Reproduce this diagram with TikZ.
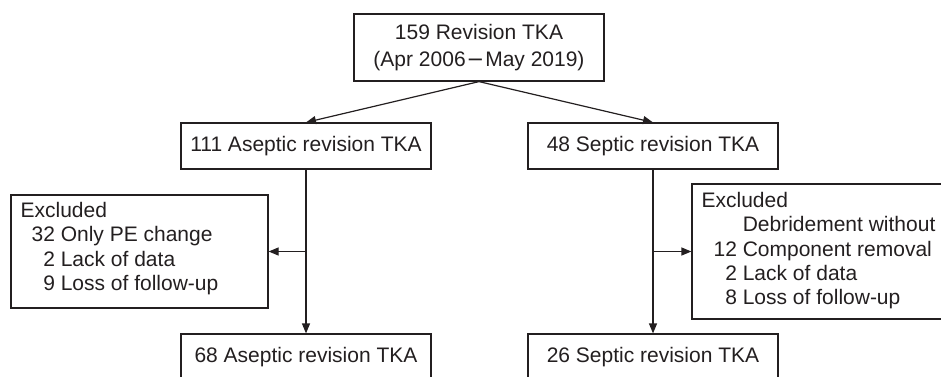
\documentclass[tikz,border=0pt]{standalone}
\usepackage{fontspec}
\setmainfont{Liberation Sans}
\usetikzlibrary{arrows.meta}
\definecolor{ink}{HTML}{231F20}
\begin{document}
\begin{tikzpicture}[x=1pt,y=-1pt,
  box/.style={draw=ink, line width=1.2pt, rectangle, inner sep=0pt, text=ink,
    font=\fontsize{21}{27}\selectfont, align=center},
  txt/.style={inner sep=0pt, text=ink, anchor=north west,
    font=\fontsize{21}{24.3}\selectfont},
  arr/.style={draw=ink, line width=1.2pt, -{Triangle[length=10pt,width=8pt]}},
  ln/.style={draw=ink, line width=1.2pt}]
\useasboundingbox (0,0) rectangle (941,376);
\clip (0,0) rectangle (941,376);

\node[box, minimum width=250pt, minimum height=67pt] (top) at (479,47.5)
  {159 Revision TKA\\(Apr 2006{\fontspec{DejaVu Sans}\kern1pt−\kern1pt}May 2019)};
\node[box, minimum width=250pt, minimum height=46pt] (asep) at (306,146)
  {111 Aseptic revision TKA};
\node[box, minimum width=250pt, minimum height=46pt] (sep) at (653,146)
  {48 Septic revision TKA};
\node[box, minimum width=250pt, minimum height=46pt] (asep2) at (306,357)
  {68 Aseptic revision TKA};
\node[box, minimum width=250pt, minimum height=46pt] (sep2) at (653,357)
  {26 Septic revision TKA};

\node[box, minimum width=257pt, minimum height=113pt] (exL) at (139.5,251.5) {};
\node[box, minimum width=263pt, minimum height=135pt] (exR) at (823.5,251.5) {};

\node[txt] (exLt) at ([shift={(10,6)}]exL.north west)
  {\begin{tabular}{@{\hspace{11pt}}r@{ }l@{}}
   \multicolumn{2}{@{}l@{}}{Excluded}\\
   32 & Only PE change\\
   2 & Lack of data\\
   9 & Loss of follow-up
   \end{tabular}};
\node[txt] (exRt) at ([shift={(10,7)}]exR.north west)
  {\begin{tabular}{@{\hspace{12pt}}r@{ }l@{}}
   \multicolumn{2}{@{}l@{}}{Excluded}\\
    & Debridement without\\
   12 & Component removal\\
   2 & Lack of data\\
   8 & Loss of follow-up
   \end{tabular}};

\draw[arr] (top.south) -- (asep.north);
\draw[arr] (top.south) -- (sep.north);
\draw[arr] (asep.south) -- (asep2.north);
\draw[arr] (sep.south) -- (sep2.north);
\coordinate (jL) at (asep.south |- exL.east);
\coordinate (jR) at (sep.south |- exR.west);
\draw[arr] (jL) -- (exL.east);
\draw[arr] (jR) -- (exR.west);
\end{tikzpicture}
\end{document}
